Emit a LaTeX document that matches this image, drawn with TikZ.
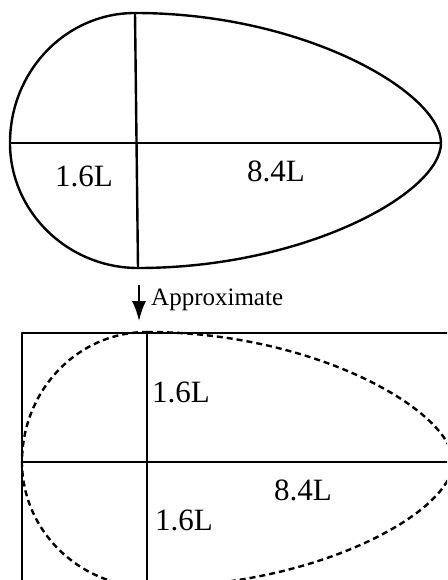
\documentclass[tikz,border=0pt]{standalone}
\usepackage{fontspec}
\setmainfont{Liberation Serif}
\usetikzlibrary{arrows.meta}
\begin{document}
\begin{tikzpicture}[x=1pt,y=-1pt,
  solidline/.style={line width=2.4pt,line join=round},
  dashline/.style={line width=2.4pt,dash pattern=on 6pt off 4pt},
  lbl/.style={inner sep=0pt,font=\fontsize{31}{31}\selectfont},
  smalllbl/.style={inner sep=0pt,font=\fontsize{25}{25}\selectfont}]
\useasboundingbox (0,0) rectangle (447,580);
\clip (0,0) rectangle (447,580);
% ---- top egg
\coordinate (et) at (135,13);
\coordinate (eb) at (138,268);
\coordinate (el) at (10,143);
\coordinate (er) at (441,143);
\draw[solidline] (et) .. controls (305,13) and (441,93) .. (er)
  .. controls (441,193) and (305,268) .. (eb)
  .. controls (68,268) and (10,212) .. (el)
  .. controls (10,71) and (66,13) .. (et) -- cycle;
\draw[solidline] (et) -- (eb);
\draw[solidline] (el) -- (er);
\node[lbl] (a1) at (84,176) {1.6L};
\node[lbl] (a2) at (276,171) {8.4L};
% ---- arrow
\coordinate (ar1) at (139,285);
\coordinate (ar2) at (139,321);
\draw[line width=2pt,-{Latex[length=20pt,width=14pt]}] (ar1) -- (ar2);
\node[smalllbl,anchor=base west] (ap) at (151,305) {Approximate};
% ---- rectangle
\coordinate (rtl) at (22,333);
\coordinate (rbr) at (470,620);
\draw[solidline,line width=2.8pt] (rtl) rectangle (rbr);
\coordinate (vt) at (147,333);
\coordinate (vb) at (147,620);
\coordinate (hl) at (22,462);
\coordinate (hr) at (470,462);
\draw[solidline] (vt) -- (vb);
\draw[solidline] (hl) -- (hr);
% ---- dashed egg
\begin{scope}[shift={(12,319)}]
\draw[dashline] (135,13) .. controls (305,13) and (441,93) .. (441,143)
  .. controls (441,193) and (305,268) .. (138,268)
  .. controls (68,268) and (10,212) .. (10,143)
  .. controls (10,71) and (66,13) .. (135,13);
\end{scope}
\node[lbl] (b1) at (181,392) {1.6L};
\node[lbl] (b2) at (303,490) {8.4L};
\node[lbl] (b3) at (184,520) {1.6L};
\end{tikzpicture}
\end{document}
